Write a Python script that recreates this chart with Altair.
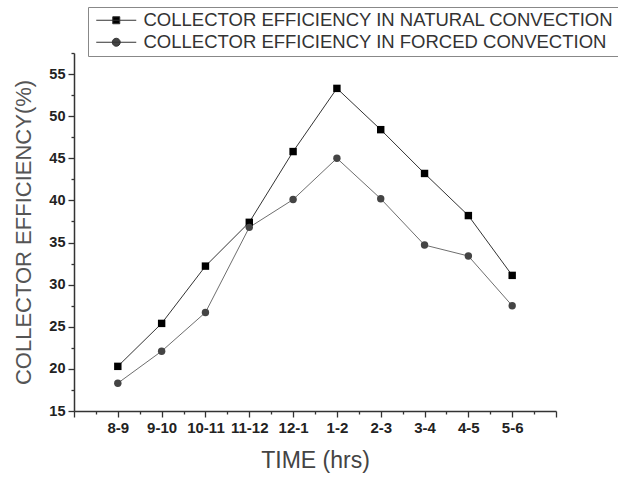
import altair as alt
import pandas as pd

times = ["8-9", "9-10", "10-11", "11-12", "12-1", "1-2", "2-3", "3-4", "4-5", "5-6"]
natural = [20.3, 25.4, 32.2, 37.4, 45.8, 53.3, 48.4, 43.2, 38.2, 31.1]
forced = [18.3, 22.1, 26.7, 36.8, 40.1, 45.0, 40.2, 34.7, 33.4, 27.5]
series_names = ["COLLECTOR EFFICIENCY IN NATURAL CONVECTION",
                "COLLECTOR EFFICIENCY IN FORCED CONVECTION"]

rows = []
for i, t in enumerate(times):
    rows.append({"idx": i + 1, "time": t, "series": series_names[0], "eff": natural[i]})
    rows.append({"idx": i + 1, "time": t, "series": series_names[1], "eff": forced[i]})
df = pd.DataFrame(rows)

label_arr = "[''," + ",".join("'%s'" % t for t in times) + ",'']"
x_vals = [i / 2 for i in range(0, 23)]
y_vals = [15 + 2.5 * i for i in range(0, 18)]

tick_font = "Liberation Sans, Arial"

x_enc = alt.X(
    "idx:Q",
    scale=alt.Scale(domain=[0, 11], nice=False, zero=False),
    axis=alt.Axis(
        title="TIME (hrs)",
        values=x_vals,
        labelExpr=f"datum.value % 1 === 0 ? {label_arr}[datum.value] : ''",
        labelOverlap=False,
        grid=False,
        tickSize={"condition": {"test": "datum.value % 1 === 0", "value": 6}, "value": 3},
        labelPadding=3,
        labelFontSize=15,
    ),
)
y_enc = alt.Y(
    "eff:Q",
    scale=alt.Scale(domain=[15, 57.5], nice=False, zero=False),
    axis=alt.Axis(
        title="COLLECTOR EFFICIENCY(%)",
        values=y_vals,
        labelExpr="datum.value % 5 === 0 ? datum.value : ''",
        labelOverlap=False,
        grid=False,
        tickSize={"condition": {"test": "datum.value % 5 === 0", "value": 6}, "value": 3},
        labelPadding=3,
        titlePadding=13,
        labelFontSize=14.5,
    ),
)

sq_path = "M-4,0H4M-0.7,-0.7H0.7V0.7H-0.7Z"
ci_path = "M-4,0H4M0.8,0A0.8,0.8 0 1,1 -0.8,0A0.8,0.8 0 1,1 0.8,0Z"

lines = alt.Chart(df).mark_line(strokeWidth=1).encode(
    x=x_enc,
    y=y_enc,
    stroke=alt.Stroke("series:N", scale=alt.Scale(domain=series_names, range=["#333333", "#6e6e6e"]), legend=None),
)

points = alt.Chart(df).mark_point(filled=True, opacity=1, strokeWidth=0).encode(
    x=x_enc,
    y=y_enc,
    shape=alt.Shape("series:N", scale=alt.Scale(domain=series_names, range=["square", "circle"]), legend=None),
    fill=alt.Fill("series:N", scale=alt.Scale(domain=series_names, range=["#000000", "#444444"]), legend=None),
    size=alt.value(55),
)

leg = alt.Legend(
    title=None,
    orient="none",
    legendX=14,
    legendY=-46,
    strokeColor="#888888",
    padding=4,
    rowPadding=3,
    labelFont="Liberation Sans, Arial",
    labelFontSize=18.5,
    labelColor="#333333",
    labelLimit=700,
    symbolSize=100,
    symbolOffset=15,
    labelOffset=18,
    symbolStrokeWidth=1,
    symbolOpacity=1,
)

legend_layer = alt.Chart(df).transform_filter("false").mark_point(
    filled=True, strokeWidth=1
).encode(
    x=x_enc,
    y=y_enc,
    shape=alt.Shape("series:N", scale=alt.Scale(domain=series_names, range=[sq_path, ci_path]), legend=leg),
    fill=alt.Fill("series:N", scale=alt.Scale(domain=series_names, range=["#000000", "#444444"]), legend=leg),
    stroke=alt.Stroke("series:N", scale=alt.Scale(domain=series_names, range=["#333333", "#333333"]), legend=leg),
)

chart = alt.layer(lines, points, legend_layer).resolve_scale(
    shape="independent", fill="independent", stroke="independent"
).properties(
    width=482,
    height=358,
    autosize=alt.AutoSizeParams(type="none"),
    padding={"left": 74, "top": 53, "right": 62, "bottom": 66},
).configure_view(stroke=None).configure_axis(
    domainColor="#333333",
    domainWidth=1.5,
    tickColor="#333333",
    tickWidth=1.3,
    labelFont=tick_font,
    labelFontWeight="bold",
    labelColor="#222222",
    titleFont="Liberation Sans, Arial",
    titleFontSize=22,
    titleFontWeight="normal",
    titleColor="#555555",
).configure_axisX(titleFontSize=23, titlePadding=14, titleColor="#444444")

chart.save("out.html", embed_options={"renderer": "svg", "actions": False})
